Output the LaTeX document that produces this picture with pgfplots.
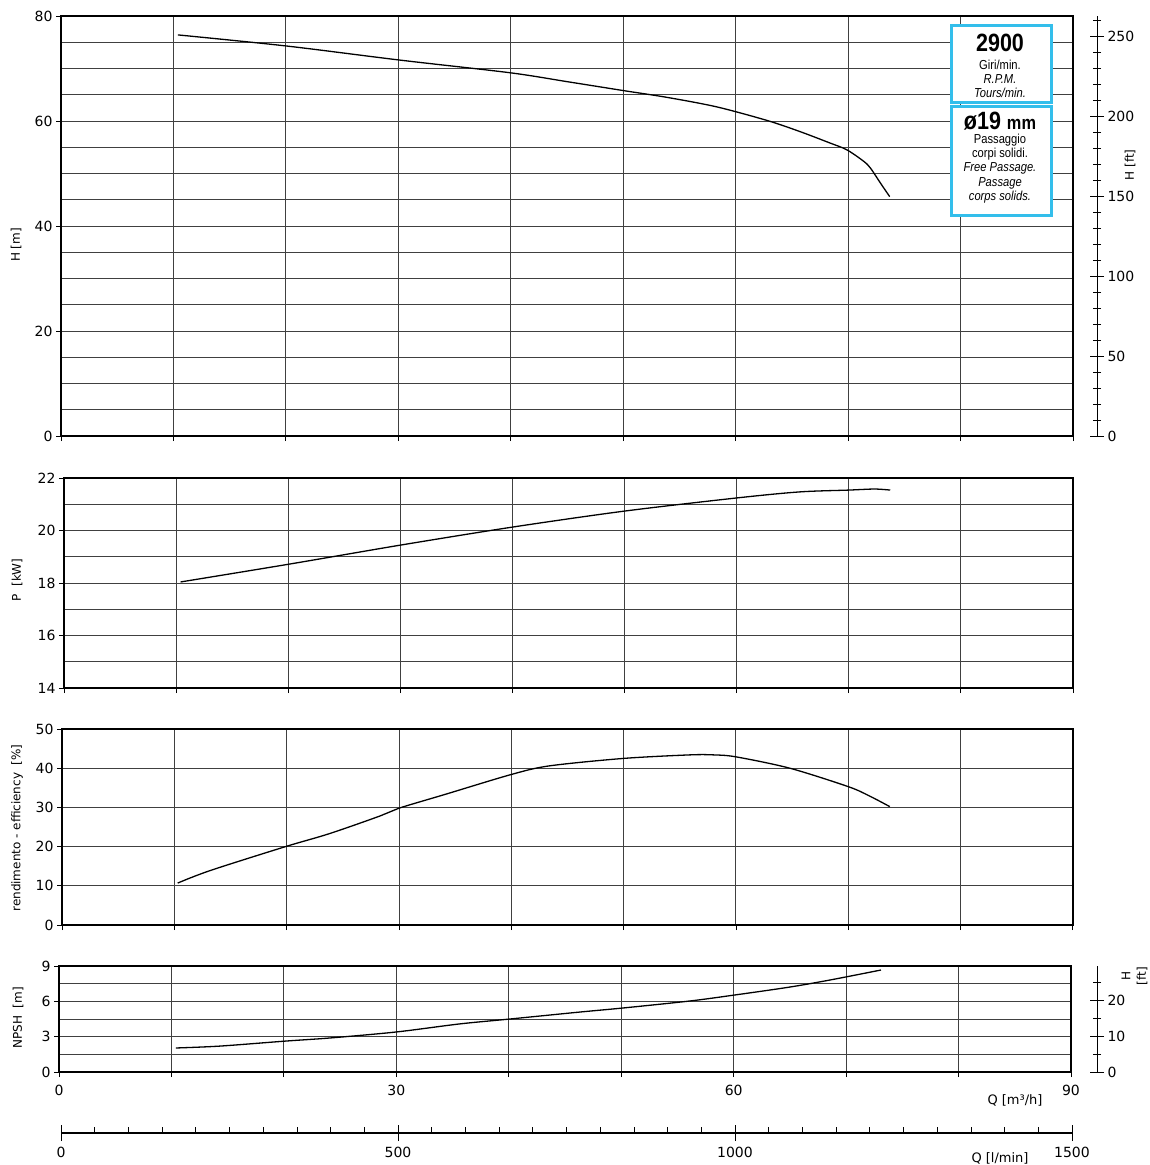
\documentclass[border=0pt]{standalone}
\usepackage{pgfplots}
\pgfplotsset{compat=1.18}
\usepackage{fontspec}
\setmainfont{DejaVu Sans}
\newfontfamily\boxfont[FakeStretch=0.86]{Liberation Sans}
\definecolor{boxcyan}{RGB}{51,190,235}

\pgfplotsset{
  panel/.style={
    scale only axis, xmin=0, xmax=90,
    grid=both,
    major grid style={black!75, line width=0.9pt},
    minor grid style={black!75, line width=0.9pt},
    axis line style={black, line width=1.3pt},
    tick style={black, line width=0.8pt},
    tick align=outside, major tick length=5pt, minor tick length=0pt,
    xtick pos=bottom, ytick pos=left,
    xtick={0,10,...,90}, xticklabels={},
    tick label style={font=\fontsize{14}{16}\selectfont},
    /pgf/number format/assume math mode=true,
  },
  curve/.style={black, line width=1.3pt, smooth, mark=none},
  ftaxis/.style={
    scale only axis, xmin=0, xmax=1,
    axis x line=none, axis y line*=right,
    axis line style={black, line width=1pt},
    tick style={black, line width=0.8pt},
    tick align=center, major tick length=14pt, minor tick length=8pt,
    tick label style={font=\fontsize{14}{16}\selectfont},
    /pgf/number format/assume math mode=true,
  },
}

\begin{document}
\begin{tikzpicture}
\useasboundingbox (0pt,0pt) rectangle (1150pt,-1165pt);

% H [m]
\begin{axis}[panel, at={(61pt,-436pt)}, anchor=south west,
  width=1012pt, height=420pt, ymin=0, ymax=80,
  ytick={0,20,...,80}, minor ytick={5,10,...,75}]
\addplot[curve] coordinates {(10.4,76.4)(20,74.3)(30.15,71.6)(39.9,69.2)(45,67.5)(50,65.8)(53.9,64.5)(58.3,62.7)(62.8,60.1)(65.7,58.0)(68.4,55.8)(69.9,54.5)(71.4,52.3)(72,51.0)(72.9,48.1)(73.7,45.6)};
\end{axis}
% H [ft]
\begin{axis}[ftaxis, at={(61pt,-436pt)}, anchor=south west,
  width=1036pt, height=420pt, ymin=0, ymax=262.47,
  ytick={0,50,...,250}, minor ytick={10,20,...,260}]
\addplot[draw=none] coordinates {(0,0)(1,1)};
\end{axis}

% P [kW]
\begin{axis}[panel, at={(64pt,-688pt)}, anchor=south west,
  width=1009pt, height=210pt, ymin=14, ymax=22,
  ytick={14,16,...,22}, minor ytick={15,17,...,21}]
\addplot[curve] coordinates {(10.4,18.04)(20.1,18.72)(30.1,19.45)(40,20.13)(50,20.74)(60,21.24)(65.6,21.47)(70,21.54)(72.3,21.58)(73.7,21.54)};
\end{axis}

% efficiency
\begin{axis}[panel, at={(62pt,-925pt)}, anchor=south west,
  width=1011pt, height=196pt, ymin=0, ymax=50,
  ytick={0,10,...,50}]
\addplot[curve] coordinates {(10.3,10.7)(13.2,13.9)(19.9,20.0)(23.8,23.3)(28.3,27.8)(30,29.8)(34.2,33.4)(40,38.4)(43.4,40.6)(50,42.5)(55.9,43.4)(58,43.4)(60,42.9)(64.8,40.0)(70,35.3)(71.9,32.9)(73.7,30.2)};
\end{axis}

% NPSH
\begin{axis}[panel, at={(59pt,-1072pt)}, anchor=south west,
  width=1012pt, height=106pt, ymin=0, ymax=9,
  ytick={0,3,6,9}, minor ytick={1.5,4.5,7.5},
  xticklabels={0,,,30,,,60,,,90},
  xticklabel style={font=\fontsize{14}{16}\selectfont, yshift=-5pt}]
\addplot[curve] coordinates {(10.4,2.04)(14.3,2.2)(20.2,2.63)(24.1,2.89)(30,3.4)(35.6,4.08)(40.1,4.5)(46.3,5.09)(50.1,5.43)(56.1,6.03)(60.1,6.54)(64.9,7.2)(68.5,7.8)(73.1,8.66)};
\end{axis}
\begin{axis}[ftaxis, at={(59pt,-1072pt)}, anchor=south west,
  width=1038pt, height=106pt, ymin=0, ymax=29.53,
  ytick={0,10,20}, minor ytick={5,15,25}]
\addplot[draw=none] coordinates {(0,0)(1,1)};
\end{axis}

% Q [l/min]
\begin{axis}[scale only axis, at={(61pt,-1133pt)}, anchor=south west,
  width=1011pt, height=10pt, xmin=0, xmax=1500, ymin=0, ymax=1,
  axis y line=none, axis x line*=bottom,
  axis line style={black, line width=1.2pt},
  tick style={black, line width=0.8pt},
  xtick={0,500,1000,1500},
  tick align=center, major tick length=16pt,
  extra x ticks={50,100,...,450,550,600,...,950,1050,1100,...,1450},
  extra x tick labels={},
  extra x tick style={tick align=inside, major tick length=6pt},
  xticklabel style={font=\fontsize{14}{16}\selectfont, yshift=-3pt},
  /pgf/number format/assume math mode=true,
  /pgf/number format/1000 sep={}]
\addplot[draw=none] coordinates {(0,0)(1500,1)};
\end{axis}

% axis titles
\begin{scope}[every node/.style={font=\fontsize{12}{14}\selectfont, inner sep=0pt}]
\node[rotate=90] at (16pt,-245pt) {H [m]};
\node[rotate=90] at (17pt,-580pt) {P\ \ [kW]};
\node[rotate=90] at (17pt,-828pt) {rendimento - efficiency\ \ [\%]};
\node[rotate=90] at (18pt,-1018pt) {NPSH\ \ [m]};
\node[rotate=90] at (1130pt,-165pt) {H [ft]};
\node[rotate=90] at (1126pt,-976pt) {H};
\node[rotate=90] at (1142pt,-976pt) {[ft]};
\node[font=\fontsize{13}{15}\selectfont] at (1015pt,-1100pt) {Q [m³/h]};
\node[font=\fontsize{13}{15}\selectfont] at (1000pt,-1158pt) {Q [l/min]};
\end{scope}

% info boxes
\draw[boxcyan, line width=3pt, fill=white] (951pt,-25pt) rectangle (1051pt,-102pt);
\draw[boxcyan, line width=3pt, fill=white] (951pt,-106pt) rectangle (1051pt,-215pt);
\begin{scope}[every node/.style={inner sep=0pt, font=\boxfont\fontsize{13}{15}\selectfont}]
\node[font=\boxfont\bfseries\fontsize{25}{27}\selectfont] at (1000pt,-43pt) {2900};
\node at (1000pt,-65pt) {Giri/min.};
\node at (1000pt,-79pt) {\itshape R.P.M.};
\node at (1000pt,-93pt) {\itshape Tours/min.};
\node at (1000pt,-121pt) {\bfseries\fontsize{25}{27}\selectfont ø19 \fontsize{19}{21}\selectfont mm};
\node at (1000pt,-140pt) {Passaggio};
\node at (1000pt,-154pt) {corpi solidi.};
\node at (1000pt,-168pt) {\itshape Free Passage.};
\node at (1000pt,-183pt) {\itshape Passage};
\node at (1000pt,-197pt) {\itshape corps solids.};
\end{scope}
\end{tikzpicture}
\end{document}
